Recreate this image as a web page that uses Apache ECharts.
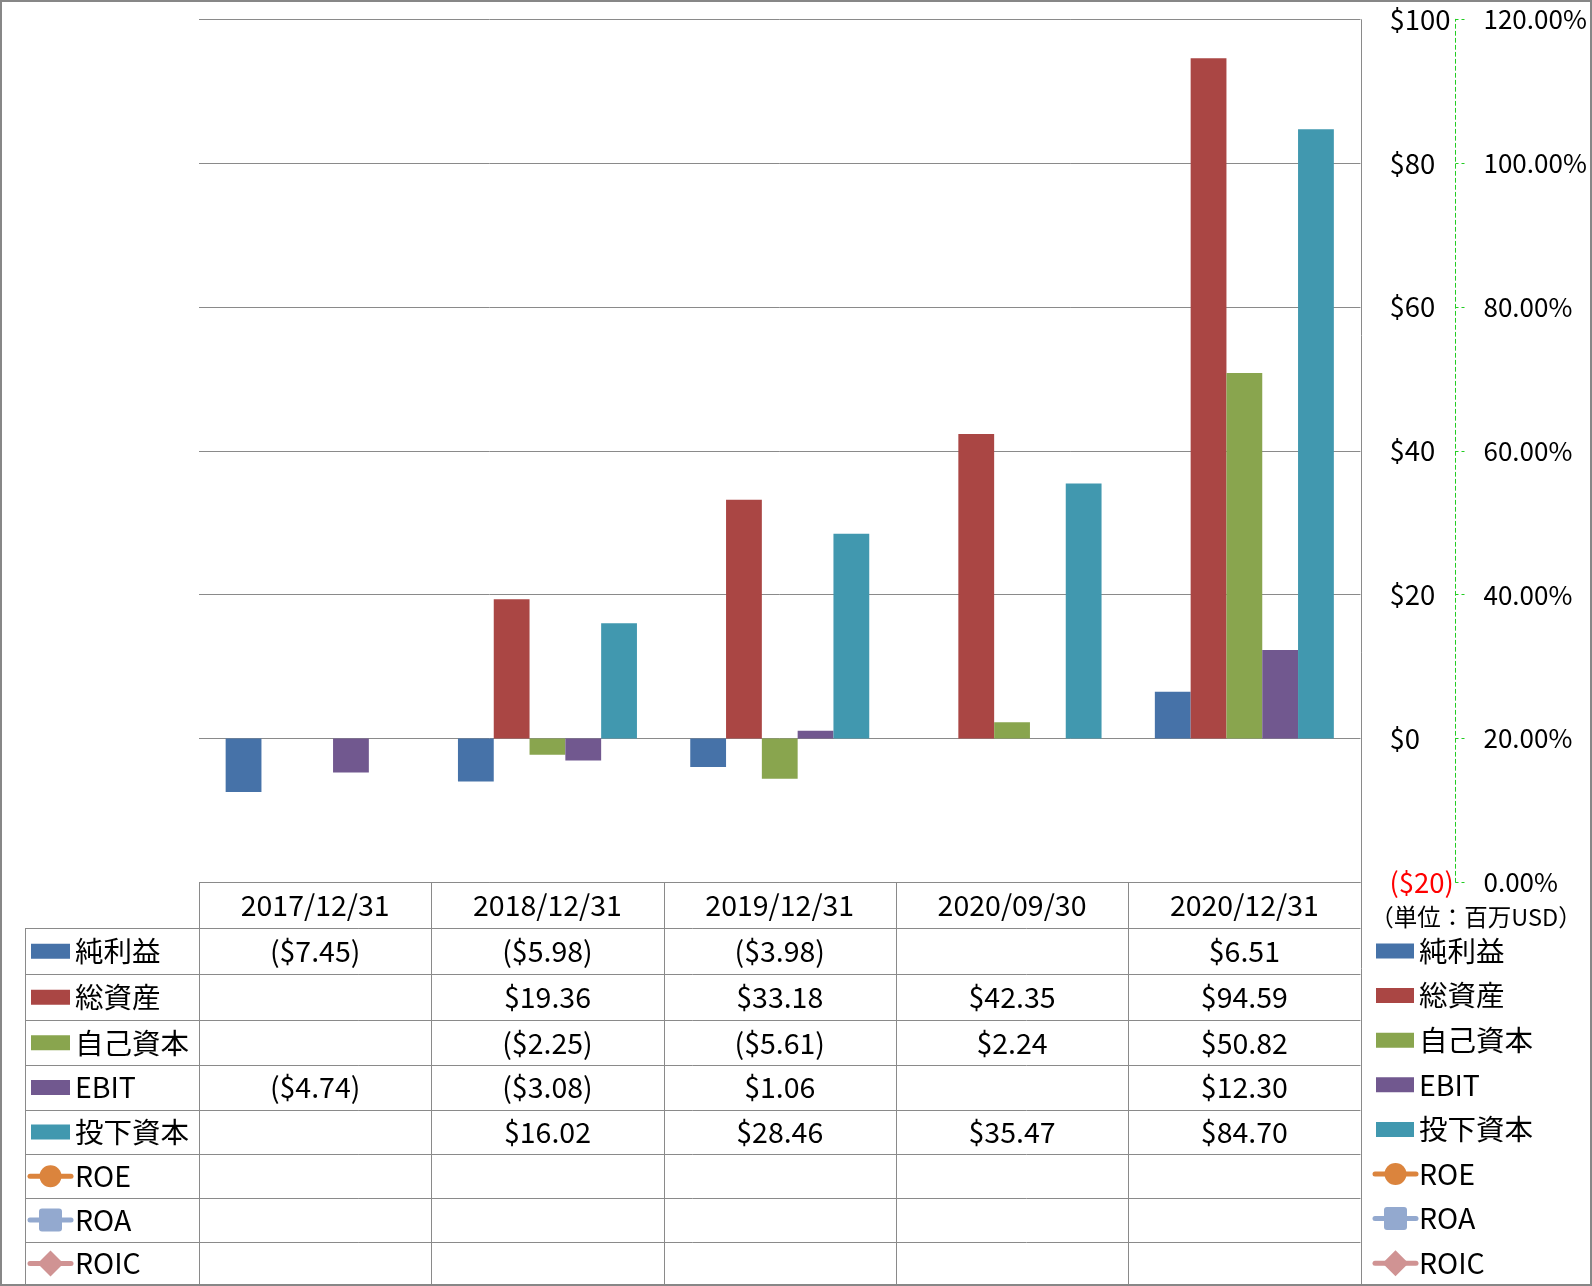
<!DOCTYPE html>
<html>
<head>
<meta charset="utf-8">
<script src="https://cdn.jsdelivr.net/npm/echarts@6/dist/echarts.min.js"></script>
<style>
html,body{margin:0;padding:0;background:#fff;}
#c{width:1592px;height:1286px;}
</style>
</head>
<body>
<div id="c"></div>
<script>
// ---- data ----
const categories = ['2017/12/31', '2018/12/31', '2019/12/31', '2020/09/30', '2020/12/31'];
const netIncome = [-7.45, -5.98, -3.98, null, 6.51];
const totalAssets = [null, 19.36, 33.18, 42.35, 94.59];
const equity = [null, -2.25, -5.61, 2.24, 50.82];
const ebit = [-4.74, -3.08, 1.06, null, 12.30];
const investedCapital = [null, 16.02, 28.46, 35.47, 84.70];
const roe = [null, null, null, null, null];
const roa = [null, null, null, null, null];
const roic = [null, null, null, null, null];
const barNames = ['純利益', '総資産', '自己資本', 'EBIT', '投下資本'];
const lineNames = ['ROE', 'ROA', 'ROIC'];
const usdTicks = [-20, 0, 20, 40, 60, 80, 100];
const pctTicks = [0, 0.2, 0.4, 0.6, 0.8, 1.0, 1.2];
const unitLabel = '（単位：百万USD）';

// ---- layout / style ----
const FONT = '"Noto Sans CJK JP", "Noto Sans", sans-serif';
const FS = 28.5;
const AXFS = 27.5;
const PCTFS = 26;
const GRID = { left: 199, right: 1360.5, top: 19.3, bottom: 882.3 };
const rowY = [882.3, 928.3, 974.3, 1020.3, 1065.2, 1109.6, 1154.3, 1198.3, 1241.9, 1285];
const barColors = ['#4672A8', '#AA4644', '#89A54E', '#71588F', '#4198AF'];
const lineColors = ['#DB843D', '#93A9CF', '#D09393'];
const lineGray = '#8a8a8a';

const barData = [netIncome, totalAssets, equity, ebit, investedCapital];
const lineData = [roe, roa, roic];

function fmt(v) {
  if (v === null || v === undefined) return '';
  const s = '$' + Math.abs(v).toFixed(2);
  return v < 0 ? '(' + s + ')' : s;
}

const colW = (GRID.right - GRID.left) / categories.length;
const g = [];
function hline(x1, x2, y) {
  g.push({ type: 'line', silent: true, z: 50, shape: { x1: x1, y1: Math.round(y) + 0.5, x2: x2, y2: Math.round(y) + 0.5 }, style: { stroke: lineGray, lineWidth: 1 } });
}
function vline(x, y1, y2) {
  g.push({ type: 'line', silent: true, z: 50, shape: { x1: Math.round(x) + 0.5, y1: y1, x2: Math.round(x) + 0.5, y2: y2 }, style: { stroke: lineGray, lineWidth: 1 } });
}
function text(str, x, y, align, size, color) {
  g.push({ type: 'text', silent: true, z: 60, x: x, y: y, style: { text: str, font: (size || FS) + 'px ' + FONT, fill: color || '#000', align: align || 'center', verticalAlign: 'middle' } });
}
function legendIcon(i, isLine, x1, x2, cy) {
  if (!isLine) {
    g.push({ type: 'rect', silent: true, z: 60, shape: { x: x1, y: cy - 7.5, width: x2 - x1, height: 15 }, style: { fill: barColors[i] } });
  } else {
    const c = lineColors[i];
    const mx = (x1 + x2) / 2;
    g.push({ type: 'line', silent: true, z: 60, shape: { x1: x1 + 2, y1: cy, x2: x2 - 2, y2: cy }, style: { stroke: c, lineWidth: 5, lineCap: 'round' } });
    if (i === 0) g.push({ type: 'circle', silent: true, z: 61, shape: { cx: mx, cy: cy, r: 11 }, style: { fill: c } });
    if (i === 1) g.push({ type: 'rect', silent: true, z: 61, shape: { x: mx - 11.5, y: cy - 11.5, width: 23, height: 23, r: 3 }, style: { fill: c } });
    if (i === 2) g.push({ type: 'polygon', silent: true, z: 61, shape: { points: [[mx, cy - 13], [mx + 13, cy], [mx, cy + 13], [mx - 13, cy]] }, style: { fill: c } });
  }
}

// outer frame
g.push({ type: 'rect', silent: true, z: 70, shape: { x: 1, y: 1, width: 1590, height: 1284 }, style: { fill: 'none', stroke: '#878787', lineWidth: 2 } });
// plot right border
vline(GRID.right, GRID.top, 1285);
// header top line
hline(GRID.left, GRID.right, rowY[0]);
// row lines
for (let r = 1; r < rowY.length - 1; r++) hline(25, GRID.right, rowY[r]);
// left table border
vline(25, rowY[1], 1285);
// column lines
for (let c = 0; c < categories.length; c++) vline(GRID.left + c * colW, rowY[0], 1285);
// header labels
categories.forEach((cat, c) => text(cat, GRID.left + (c + 0.5) * colW, (rowY[0] + rowY[1]) / 2));
// rows
const allNames = barNames.concat(lineNames);
const rightLegendY0 = 951, rightLegendStep = 44.6;
allNames.forEach((name, r) => {
  const cy = (rowY[r + 1] + rowY[r + 2]) / 2;
  const isLine = r >= barNames.length;
  const idx = isLine ? r - barNames.length : r;
  if (!isLine) legendIcon(idx, false, 31, 70, cy);
  else legendIcon(idx, true, 28, 73, cy);
  text(name, 75, cy, 'left');
  const vals = isLine ? lineData[idx] : barData[idx];
  vals.forEach((v, c) => {
    const s = isLine ? (v === null ? '' : (v * 100).toFixed(2) + '%') : fmt(v);
    if (s) text(s, GRID.left + (c + 0.5) * colW, cy);
  });
  // right legend
  const ry = rightLegendY0 + r * rightLegendStep;
  if (!isLine) legendIcon(idx, false, 1376, 1414, ry);
  else legendIcon(idx, true, 1373, 1418, ry);
  text(name, 1419, ry, 'left');
});
text(unitLabel, 1476, 917, 'center', 23.5);

const series = [];
barNames.forEach((n, i) => series.push({
  name: n, type: 'bar', yAxisIndex: 0, data: barData[i], barWidth: 35.8, barGap: '0%',
  itemStyle: { color: barColors[i] }, silent: true
}));
lineNames.forEach((n, i) => series.push({
  name: n, type: 'line', yAxisIndex: 1, data: lineData[i],
  itemStyle: { color: lineColors[i] }, lineStyle: { color: lineColors[i], width: 5 },
  symbol: ['circle', 'roundRect', 'diamond'][i], symbolSize: 22, silent: true
}));

const chart = echarts.init(document.getElementById('c'), null, { renderer: 'canvas' });
chart.setOption({
  animation: false,
  backgroundColor: '#fff',
  grid: { left: GRID.left, top: GRID.top, width: GRID.right - GRID.left, height: GRID.bottom - GRID.top, containLabel: false, outerBoundsMode: 'none' },
  xAxis: { type: 'category', data: categories, axisLine: { show: false }, axisTick: { show: false }, axisLabel: { show: false }, splitLine: { show: false } },
  yAxis: [
    {
      type: 'value', position: 'right', min: usdTicks[0], max: usdTicks[usdTicks.length - 1], interval: 20,
      axisLine: { show: false }, axisTick: { show: false },
      splitLine: { show: true, lineStyle: { color: lineGray, width: 1 } },
      axisLabel: {
        margin: 29, fontSize: AXFS, fontFamily: FONT, color: '#000',
        formatter: function (v) { return v < 0 ? '{neg|($' + Math.abs(v) + ')}' : '$' + v; },
        rich: { neg: { color: '#FF0000', fontSize: AXFS, fontFamily: FONT } }
      }
    },
    {
      type: 'value', position: 'right', offset: 95, min: pctTicks[0], max: pctTicks[pctTicks.length - 1], interval: 0.2,
      axisLine: { show: true, lineStyle: { color: '#22CC22', width: 1, type: [4, 3] } },
      axisTick: { show: true, inside: false, length: 9, lineStyle: { color: '#22CC22', width: 1, type: [3, 3] } },
      splitLine: { show: false },
      axisLabel: { margin: 28, fontSize: PCTFS, fontFamily: FONT, color: '#000', formatter: function (v) { return (v * 100).toFixed(2) + '%'; } }
    }
  ],
  series: series,
  graphic: g
});
</script>
</body>
</html>
